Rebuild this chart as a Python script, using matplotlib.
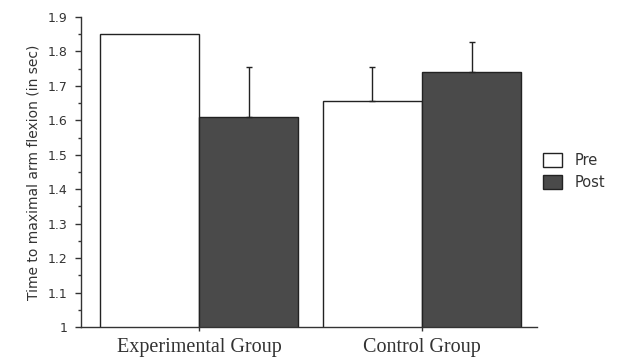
import numpy as np
import matplotlib.pyplot as plt

groups = ["Experimental Group", "Control Group"]
pre_means = [1.85, 1.655]
post_means = [1.61, 1.74]
pre_err = [0.0, 0.10]
post_err = [0.145, 0.087]

fig = plt.figure(figsize=(6.21, 3.63), dpi=100)
ax = fig.add_axes([0.1304, 0.0992, 0.7343, 0.854])

w = 0.4
centers = np.array([0.0, 0.9])
edge = "#222222"

ax.bar(centers - w / 2, pre_means, width=w, color="white",
       edgecolor=edge, linewidth=1.0, label="Pre")
ax.bar(centers + w / 2, post_means, width=w, color="#4a4a4a",
       edgecolor=edge, linewidth=1.0, label="Post")

# upward-only error bars, skipped where no error is shown
for xs, means, errs in [(centers - w / 2, pre_means, pre_err),
                        (centers + w / 2, post_means, post_err)]:
    for x, m, e in zip(xs, means, errs):
        if e > 0:
            ax.errorbar(x, m, yerr=[[0], [e]], fmt="none", ecolor=edge,
                        elinewidth=1.0, capsize=2.5, capthick=1.0)

ax.set_ylim(1.0, 1.9)
ax.set_xlim(-0.476, 1.364)

ax.set_yticks(np.arange(1.0, 1.91, 0.1))
ax.set_yticklabels(["1", "1.1", "1.2", "1.3", "1.4", "1.5", "1.6", "1.7", "1.8", "1.9"],
                   fontfamily="DejaVu Sans", fontsize=9, color="#333333")
ax.set_yticks(np.arange(1.05, 1.9, 0.1), minor=True)
ax.tick_params(axis="y", which="major", direction="out", length=4, width=1,
               colors="#333333", pad=6)
ax.tick_params(axis="y", which="minor", direction="out", length=2, width=1, colors="#333333")

ax.set_xticks(centers)
ax.set_xticklabels(groups, fontfamily="Liberation Serif", fontsize=14.5, color="#333333")
ax.tick_params(axis="x", direction="out", length=3, width=1, colors="#333333", pad=5)

ax.set_ylabel("Time to maximal arm flexion (in sec)", fontsize=10,
              fontfamily="DejaVu Sans", color="#333333", labelpad=5)

for s in ["top", "right"]:
    ax.spines[s].set_visible(False)
for s in ["left", "bottom"]:
    ax.spines[s].set_color("#333333")
    ax.spines[s].set_linewidth(1.0)

leg = ax.legend(loc="upper left", bbox_to_anchor=(0.998, 0.585), frameon=False,
                handlelength=1.25, handleheight=1.15, handletextpad=0.9,
                labelspacing=0.45, borderpad=0, fontsize=10.5)
for t in leg.get_texts():
    t.set_color("#333333")

fig.savefig("out.png", dpi=100)
